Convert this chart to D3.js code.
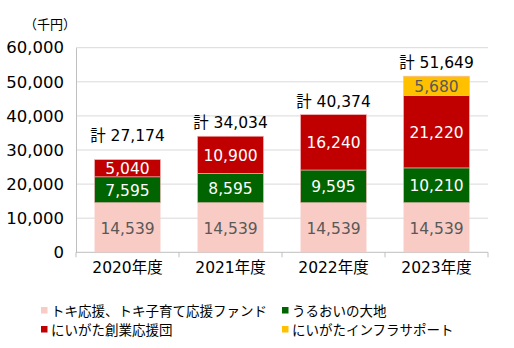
<!DOCTYPE html>
<html><head><meta charset="utf-8">
<script src="https://cdn.jsdelivr.net/npm/d3@7"></script>
<style>body{margin:0;background:#fff}svg{display:block}text{font-family:"DejaVu Sans","Noto Sans CJK JP",sans-serif}</style>
</head><body><svg id="c" width="514" height="348"></svg>
<script>
const years = ["2020年度","2021年度","2022年度","2023年度"];
const seriesNames = ["トキ応援、トキ子育て応援ファンド","うるおいの大地","にいがた創業応援団","にいがたインフラサポート"];
const toki = [14539,14539,14539,14539];
const uruoi = [7595,8595,9595,10210];
const sogyo = [5040,10900,16240,21220];
const infra = [0,0,0,5680];
const totals = [27174,34034,40374,51649];
const yTicks = [0,10000,20000,30000,40000,50000,60000];
const colors = ["#F8CBC4","#006400","#C00000","#FFC000"];
const labelColors = ["#595959","#ffffff","#ffffff","#595959"];

const svg = d3.select("#c");
const m = {l:76, r:488, t:47.7, b:252.3};
const x = d3.scaleBand().domain(years).range([m.l,m.r]).paddingInner(0.36).paddingOuter(0.18);
const y = d3.scaleLinear().domain([0,60000]).range([m.b,m.t]);
const fmt = d3.format(",");

const rows = years.map((yr,i)=>({year:yr,s0:toki[i],s1:uruoi[i],s2:sogyo[i],s3:infra[i]}));
const stack = d3.stack().keys(["s0","s1","s2","s3"])(rows);

// gridlines
svg.append("g").selectAll("line").data(yTicks.slice(1)).join("line")
  .attr("x1",m.l).attr("x2",m.r).attr("y1",d=>y(d)).attr("y2",d=>y(d))
  .attr("stroke","#d9d9d9").attr("stroke-width",1);

// y axis
const ya = svg.append("g").attr("transform",`translate(${m.l},0)`)
  .call(d3.axisLeft(y).tickValues(yTicks).tickFormat(fmt).tickSize(0).tickPadding(12));
ya.select(".domain").attr("stroke","#bfbfbf");
ya.selectAll("text").attr("font-size",16.5).attr("fill","#000")
  .style("font-family","'DejaVu Sans','Noto Sans CJK JP',sans-serif");

// x axis line with category boundary ticks
svg.append("line").attr("x1",m.l).attr("x2",m.r).attr("y1",m.b).attr("y2",m.b).attr("stroke","#bfbfbf");
svg.append("g").selectAll("line").data(d3.range(years.length+1)).join("line")
  .attr("x1",d=>m.l+d*(m.r-m.l)/years.length).attr("x2",d=>m.l+d*(m.r-m.l)/years.length)
  .attr("y1",m.b).attr("y2",m.b+5).attr("stroke","#bfbfbf");
svg.append("g").selectAll("text").data(years).join("text")
  .attr("x",d=>x(d)+x.bandwidth()/2).attr("y",m.b+21).attr("text-anchor","middle")
  .attr("font-size",15.5).attr("fill","#000").text(d=>d);

// stacked bars with value labels
stack.forEach((s,si)=>{
  const g = svg.append("g");
  const segs = s.filter(d=>d[1]>d[0]);
  g.selectAll("rect").data(segs).join("rect")
    .attr("x",d=>x(d.data.year)).attr("width",x.bandwidth())
    .attr("y",d=>y(d[1])).attr("height",d=>y(d[0])-y(d[1]))
    .attr("fill",colors[si]).attr("stroke", si===0? "none" : "#f4b8b8").attr("stroke-width",0.6);
  g.selectAll("text").data(segs).join("text")
    .attr("x",d=>x(d.data.year)+x.bandwidth()/2).attr("y",d=>(y(d[0])+y(d[1]))/2+6)
    .attr("text-anchor","middle").attr("font-size",15.5).attr("fill",labelColors[si])
    .text(d=>fmt(d[1]-d[0]));
});

// total labels above each bar (first one sits a little higher)
svg.append("g").selectAll("text").data(years).join("text")
  .attr("x",d=>x(d)+x.bandwidth()/2).attr("y",(d,i)=>y(totals[i])-(i===0?19:8))
  .attr("text-anchor","middle").attr("font-size",15.5).attr("fill","#000")
  .text((d,i)=>"計 "+fmt(totals[i]));

// unit
svg.append("text").attr("x",24).attr("y",29).attr("font-size",13).attr("fill","#000")
  .style("font-family","'Noto Sans CJK JP',sans-serif").text("（千円）");

// legend
const lg = [{x:41,y:316},{x:282,y:316},{x:41,y:335},{x:282,y:335}];
seriesNames.forEach((n,i)=>{
  svg.append("rect").attr("x",lg[i].x).attr("y",lg[i].y-9).attr("width",6.5).attr("height",6.5).attr("fill",colors[i]);
  svg.append("text").attr("x",lg[i].x+10).attr("y",lg[i].y).attr("font-size",13.5).attr("fill","#000")
    .style("font-family","'Noto Sans CJK JP',sans-serif").text(n);
});
</script></body></html>
